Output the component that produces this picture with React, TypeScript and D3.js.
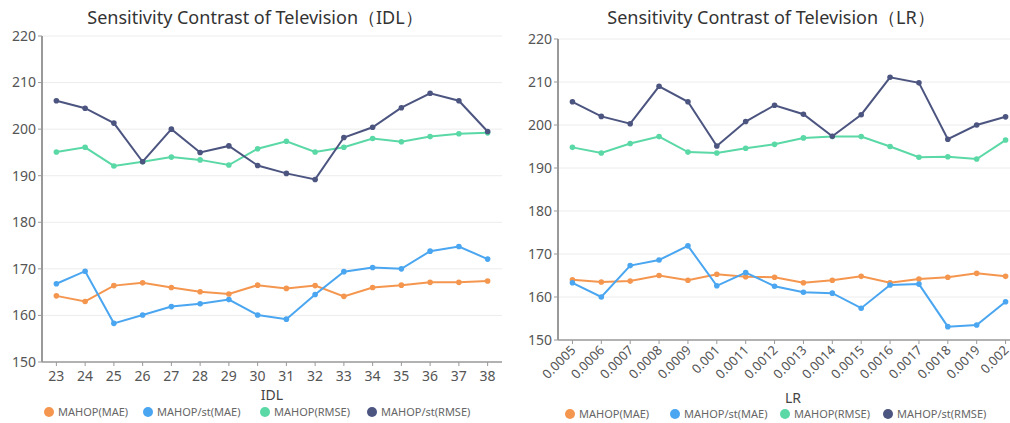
import * as d3 from "d3";
import React from "react";

// categories
const idlCats = ["23", "24", "25", "26", "27", "28", "29", "30", "31", "32", "33", "34", "35", "36", "37", "38"];
const lrCats = ["0.0005", "0.0006", "0.0007", "0.0008", "0.0009", "0.001", "0.0011", "0.0012", "0.0013", "0.0014", "0.0015", "0.0016", "0.0017", "0.0018", "0.0019", "0.002"];

const seriesNames = ["MAHOP(MAE)", "MAHOP/st(MAE)", "MAHOP(RMSE)", "MAHOP/st(RMSE)"];
const colors = ["#f5964f", "#4aa6f0", "#5ad8a6", "#4c5580"];

// IDL values
const idlMae = [164.2, 163.0, 166.4, 167.0, 166.0, 165.1, 164.6, 166.5, 165.8, 166.4, 164.1, 166.0, 166.5, 167.1, 167.1, 167.4];
const idlStMae = [166.8, 169.5, 158.3, 160.1, 161.9, 162.5, 163.4, 160.1, 159.2, 164.5, 169.4, 170.3, 170.0, 173.8, 174.8, 172.1];
const idlRmse = [195.1, 196.1, 192.1, 193.0, 194.0, 193.4, 192.3, 195.8, 197.4, 195.1, 196.1, 198.0, 197.3, 198.4, 199.0, 199.2];
const idlStRmse = [206.1, 204.5, 201.3, 193.0, 200.0, 195.0, 196.4, 192.2, 190.5, 189.2, 198.2, 200.4, 204.6, 207.7, 206.1, 199.5];

// LR values
const lrMae = [164.0, 163.5, 163.7, 165.0, 163.9, 165.3, 164.7, 164.6, 163.3, 163.9, 164.8, 163.3, 164.2, 164.6, 165.5, 164.8];
const lrStMae = [163.3, 160.0, 167.3, 168.6, 171.9, 162.6, 165.7, 162.5, 161.1, 160.9, 157.4, 162.8, 163.0, 153.1, 153.5, 158.9];
const lrRmse = [194.8, 193.5, 195.7, 197.3, 193.7, 193.5, 194.6, 195.5, 197.0, 197.3, 197.3, 195.0, 192.5, 192.6, 192.1, 196.5];
const lrStRmse = [205.4, 202.0, 200.3, 209.0, 205.4, 195.1, 200.8, 204.6, 202.5, 197.4, 202.4, 211.1, 209.8, 196.7, 200.0, 201.9];

const yTicks = [150, 160, 170, 180, 190, 200, 210, 220];
const font = "'Noto Sans', Roboto, sans-serif";

interface ChartProps {
  title: string;
  axisName: string;
  cats: string[];
  series: number[][];
  x0: number;
  x1: number;
  yTop: number;
  yBottom: number;
  titleX: number;
  axisNameY: number;
  rotate: boolean;
  legendX: number[];
  legendY: number;
}

const Chart: React.FC<ChartProps> = ({ title, axisName, cats, series, x0, x1, yTop, yBottom, titleX, axisNameY, rotate, legendX, legendY }) => {
  const x = d3.scaleBand<string>().domain(cats).range([x0, x1]);
  const y = d3.scaleLinear().domain([150, 220]).range([yBottom, yTop]);
  const cx = (c: string) => (x(c) as number) + x.bandwidth() / 2;
  const line = d3.line<number>().x((_, i) => cx(cats[i])).y(d => y(d));

  return (
    <g fontFamily={font}>
      <text x={titleX} y={24} textAnchor="middle" fontSize={18} fill="#333">{title}</text>
      {yTicks.map(t => (
        <g key={t}>
          {t > 150 && <line x1={x0} x2={x1} y1={y(t)} y2={y(t)} stroke="#ececec" strokeWidth={1} />}
          <line x1={x0 - 4} x2={x0} y1={y(t)} y2={y(t)} stroke="#999" strokeWidth={1} />
          <text x={x0 - 6} y={y(t)} dy="0.35em" textAnchor="end" fontSize={14} fill="#555">{t}</text>
        </g>
      ))}
      <line x1={x0} x2={x0} y1={yTop} y2={yBottom} stroke="#999" strokeWidth={2} />
      <line x1={x0} x2={x1} y1={yBottom} y2={yBottom} stroke="#999" strokeWidth={1.5} />
      {cats.map(c => (
        <g key={c}>
          <line x1={cx(c)} x2={cx(c)} y1={yBottom} y2={yBottom + 4} stroke="#999" strokeWidth={1} />
          {rotate ? (
            <text transform={`translate(${cx(c) + 4},${yBottom + 11}) rotate(-45)`} textAnchor="end" fontSize={13} fill="#555">{c}</text>
          ) : (
            <text x={cx(c)} y={yBottom + 19} textAnchor="middle" fontSize={14} fill="#555">{c}</text>
          )}
        </g>
      ))}
      <text x={(x0 + Math.min(x1, 1010)) / 2 + (rotate ? 9 : 0)} y={axisNameY} textAnchor="middle" fontSize={14} fill="#444">{axisName}</text>
      {series.map((s, k) => (
        <g key={k}>
          <path d={line(s) || ""} fill="none" stroke={colors[k]} strokeWidth={2} />
          {s.map((v, i) => (
            <circle key={i} cx={cx(cats[i])} cy={y(v)} r={2.8} fill={colors[k]} />
          ))}
        </g>
      ))}
      {seriesNames.map((n, k) => (
        <g key={n}>
          <circle cx={legendX[k]} cy={legendY} r={5} fill={colors[k]} />
          <text x={legendX[k] + 9} y={legendY} dy="0.35em" fontSize={11} fill="#666">{n}</text>
        </g>
      ))}
    </g>
  );
};

export default function App() {
  return (
    <svg width={1010} height={423} style={{ position: "absolute", left: 0, top: 0, background: "#fff" }}>
      <rect width={1010} height={423} fill="#fff" />
      <Chart
        title="Sensitivity Contrast of Television（IDL）"
        axisName="IDL"
        cats={idlCats}
        series={[idlMae, idlStMae, idlRmse, idlStRmse]}
        x0={42}
        x1={502}
        yTop={36}
        yBottom={362}
        titleX={255}
        axisNameY={400}
        rotate={false}
        legendX={[49, 148, 265, 372]}
        legendY={412}
      />
      <Chart
        title="Sensitivity Contrast of Television（LR）"
        axisName="LR"
        cats={lrCats}
        series={[lrMae, lrStMae, lrRmse, lrStRmse]}
        x0={558}
        x1={1020}
        yTop={39}
        yBottom={340}
        titleX={771}
        axisNameY={403}
        rotate={true}
        legendX={[570, 675, 785, 888]}
        legendY={414}
      />
    </svg>
  );
}
